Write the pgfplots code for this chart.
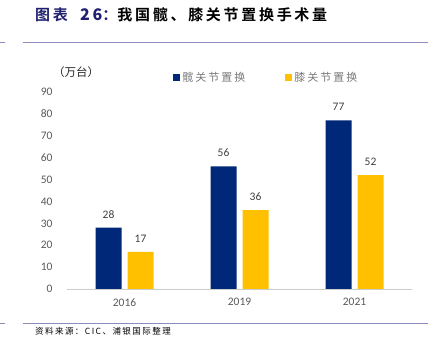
\documentclass[border=0pt]{standalone}
\usepackage{pgfplots}
\pgfplotsset{compat=1.18}
\usepackage{fontspec}
\setmainfont{Carlito}
\newfontfamily\cjk{Noto Sans CJK SC}
\newfontfamily\cjkl[LetterSpace=18]{Noto Sans CJK SC}
\newfontfamily\cjks[LetterSpace=17]{Noto Sans CJK SC}
\newfontfamily\cjkb[LetterSpace=18]{Noto Sans CJK SC Bold}
\definecolor{navy}{RGB}{0,40,120}
\definecolor{gold}{RGB}{255,192,0}
\definecolor{titlecol}{RGB}{32,32,110}
\definecolor{linecol}{RGB}{140,140,190}
\definecolor{tickgray}{RGB}{89,89,89}
\definecolor{labgray}{RGB}{64,64,64}
\begin{document}
\begin{tikzpicture}
\useasboundingbox (0pt,0pt) rectangle (434pt,355pt);
\node[anchor=west,inner sep=0] at (35pt,340pt) {\fontsize{15}{17}\selectfont\textcolor{titlecol}{\cjkb 图表\ \ {\bfseries\fontsize{16}{17}\selectfont 26}：}\cjkb 我国髋、膝关节置换手术量};
\draw[linecol,line width=0.9pt] (0pt,313pt) -- (5pt,313pt);
\draw[linecol,line width=0.9pt] (23pt,313pt) -- (428pt,313pt);
\draw[linecol,line width=0.9pt] (0pt,32pt) -- (5pt,32pt);
\draw[linecol,line width=0.9pt] (23pt,32pt) -- (428pt,32pt);
\node[anchor=west,inner sep=0] at (35pt,24pt) {\cjks\fontsize{8.5}{10}\selectfont 资料来源：CIC、浦银国际整理};
\node[inner sep=0] at (76pt,283pt) {\cjk\fontsize{11.5}{13}\selectfont\textcolor{black!85}{（万台）}};
\begin{axis}[
  at={(67pt,66pt)}, anchor=south west,
  scale only axis, width=345pt, height=197pt,
  xmin=-0.5, xmax=2.5, ymin=0, ymax=90,
  ytick={0,10,...,90},
  xtick={0,1,2}, xticklabels={2016,2019,2021},
  axis lines*=left,
  y axis line style={draw=none},
  x axis line style={draw=black!20, line width=0.8pt, -},
  major tick length=0pt,
  /pgf/number format/assume math mode=true,
  tick label style={font=\fontsize{11.5}{13}\selectfont, text=tickgray},
  xticklabel style={yshift=-6pt},
  yticklabel style={xshift=-11pt},
  bar width=26pt,
  nodes near coords,
  every node near coord/.append style={font=\fontsize{11.5}{13}\selectfont, text=labgray, yshift=6pt},
  legend columns=2,
  legend style={draw=none, fill=none, at={(0.578,1)}, anchor=south, yshift=5pt,
    font=\cjkl\fontsize{11}{12}\selectfont, text=tickgray!80,
    /tikz/every even column/.append style={column sep=38pt}},
  legend image code/.code={\fill (0pt,-3.5pt) rectangle (7pt,3.5pt);},
  clip=false,
]
\addplot[ybar, fill=navy, draw=none, bar shift=-16pt, every node near coord/.append style={xshift=-16pt}] coordinates {(0,28) (1,56) (2,77)};
\addplot[ybar, fill=gold, draw=none, bar shift=16pt, every node near coord/.append style={xshift=16pt}] coordinates {(0,17) (1,36) (2,52)};
\legend{髋关节置换,膝关节置换}
\end{axis}
\end{tikzpicture}
\end{document}
